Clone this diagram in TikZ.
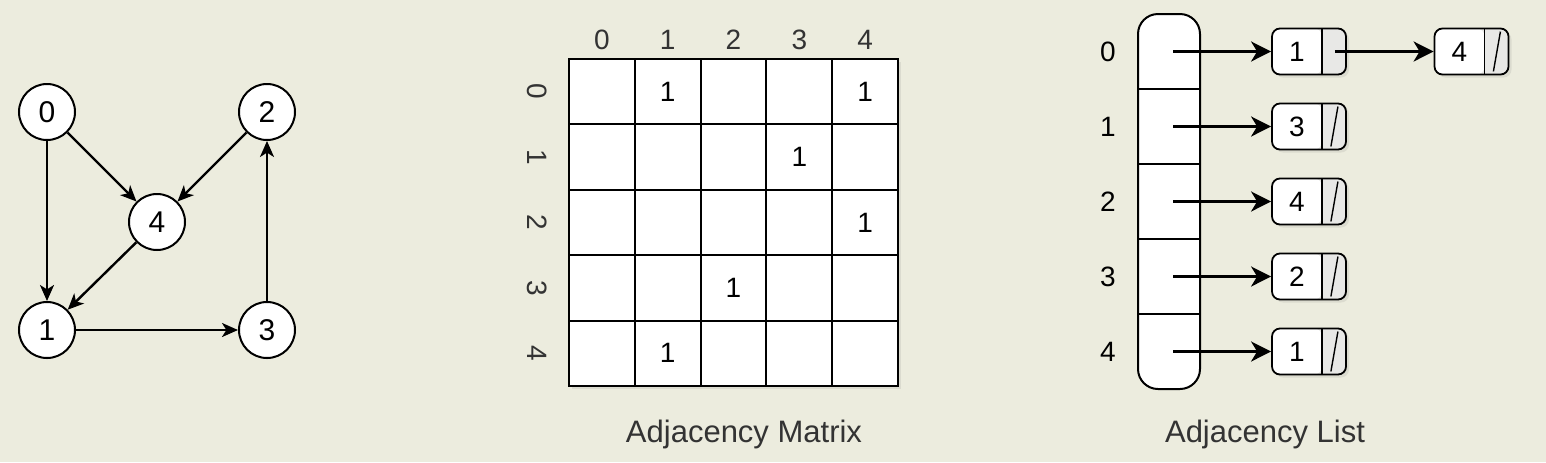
\documentclass[tikz,border=0pt]{standalone}
\usepackage{fontspec}
\setmainfont{Liberation Sans}
\usetikzlibrary{arrows.meta,shadows}
\definecolor{bgcolor}{RGB}{236,236,222}
\definecolor{nilgray}{RGB}{232,232,230}
\definecolor{captext}{RGB}{51,51,51}
\newcommand\cellnum[1]{\makebox[25pt]{#1}\hspace*{12pt}}
\tikzset{
  vertex/.style={circle,draw,fill=white,line width=1pt,minimum size=28pt,inner sep=0pt,font=\fontsize{15}{17}\selectfont},
  edge/.style={->,line width=1.2pt},
  idx/.style={inner sep=1pt,text=captext,font=\fontsize{14}{16}\selectfont},
  cell/.style={draw,line width=1pt,minimum width=32.9pt,minimum height=32.7pt,inner sep=0pt},
  entry/.style={inner sep=0pt,font=\fontsize{14}{16}\selectfont},
  caption/.style={text=captext,font=\fontsize{15.5}{18}\selectfont},
  softshadow/.style={drop shadow={shadow xshift=1.5pt,shadow yshift=-1.5pt,opacity=0.15}},
  lnode/.style={draw,rounded corners=4pt,fill=nilgray,line width=0.9pt,minimum width=37pt,minimum height=23pt,inner sep=0pt,softshadow,font=\fontsize{14}{16}\selectfont,
    path picture={\fill[white] (path picture bounding box.north west) rectangle ([xshift=25pt]path picture bounding box.south west);
      \draw[line width=0.9pt] ([xshift=25pt]path picture bounding box.north west) -- ([xshift=25pt]path picture bounding box.south west);}},
  link/.style={-{Stealth[length=10pt,width=10pt,inset=3pt]},line width=1.4pt},
  nil/.style={line width=0.7pt}
}
\begin{document}
\begin{tikzpicture}[x=0.5pt,y=-0.5pt,>={Stealth[length=8pt,width=7pt,inset=2.2pt]}]
\path[use as bounding box,fill=bgcolor] (0,0) rectangle (1546,462);
% the graph
\node[vertex] (v0) at (47,112) {0};
\node[vertex] (v2) at (267,112) {2};
\node[vertex] (v4) at (157,222) {4};
\node[vertex] (v1) at (47,330) {1};
\node[vertex] (v3) at (267,330) {3};
\draw[edge] (v0) -- (v1);
\draw[edge] (v0) -- (v4);
\draw[edge] (v2) -- (v4);
\draw[edge] (v4) -- (v1);
\draw[edge] (v1) -- (v3);
\draw[edge] (v3) -- (v2);
% adjacency matrix
\node[fill=white,softshadow,minimum width=164.5pt,minimum height=163.5pt] (mat) at (733.5,222.5) {};
\foreach \r in {0,...,4}{
  \node[idx] (col\r) at ({601.9+65.8*\r},40) {\r};
  \node[idx,rotate=-90] (row\r) at (537,{91.7+65.4*\r}) {\r};
  \foreach \c in {0,...,4}
    \node[cell] (m\r\c) at ({601.9+65.8*\c},{91.7+65.4*\r}) {};
}
\foreach \r/\c in {0/1,0/4,1/3,2/4,3/2,4/1}
  \node[entry] (e\r\c) at (m\r\c) {1};
\node[caption] (matcap) at (744,434) {Adjacency Matrix};
% adjacency list
\node[draw,fill=white,rounded corners=10pt,line width=1pt,minimum width=31pt,minimum height=187.5pt,inner sep=0pt] (heads) at (1169,201.5) {};
\foreach \r in {1,...,4}
  \draw[line width=1pt] (1138,{14+75*\r}) -- (1200,{14+75*\r});
\foreach \r/\v in {0/1,1/3,2/4,3/2,4/1}{
  \node[entry] (k\r) at (1108,{51.5+75*\r}) {\r};
  \coordinate (h\r) at (1173,{51.5+75*\r});
  \node[lnode] (n\r) at (1309,{51.5+75*\r}) {\cellnum{\v}};
  \draw[link] (h\r) -- (n\r);
}
\node[lnode] (n0b) at (1471.5,51.5) {\cellnum{4}};
\coordinate (p0) at ([xshift=-6pt]n0.east);
\draw[link] (p0) -- (n0b);
\foreach \n in {n1,n2,n3,n4,n0b}
  \draw[nil] ([xshift=-4.5pt,yshift=-2pt]\n.north east) -- ([xshift=-8pt,yshift=2pt]\n.south east);
\node[caption] (listcap) at (1265,434) {Adjacency List};
\end{tikzpicture}
\end{document}
